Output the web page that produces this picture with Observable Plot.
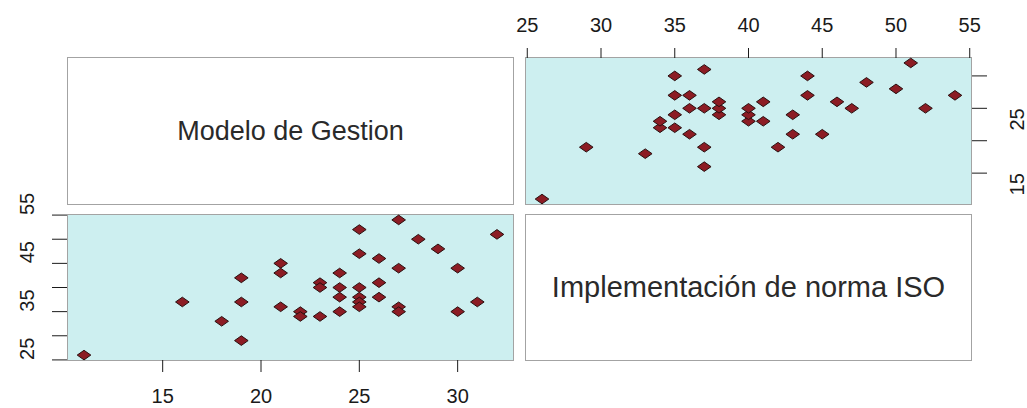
<!DOCTYPE html>
<html><head><meta charset="utf-8">
<script src="https://cdn.jsdelivr.net/npm/d3@7"></script>
<script src="https://cdn.jsdelivr.net/npm/@observablehq/plot@0.6"></script>
<style>
html,body{margin:0;padding:0;background:#fff;}
#chart{position:relative;width:1027px;height:408px;overflow:hidden;background:#fff;}
#chart svg{position:absolute;}
</style></head><body><div id="chart"></div>
<script>
// Variables (diagonal labels)
const variables = ["Modelo de Gestion", "Implementación de norma ISO"];
// Observations (paired)
const modeloGestion = [11,16,18,19,19,19,21,21,21,22,22,23,23,23,24,24,24,24,25,25,25,25,25,25,26,26,26,27,27,27,27,28,29,30,30,31,32];
const normaISO      = [26,37,33,42,37,29,45,43,36,35,34,34,41,40,43,40,38,35,52,47,40,38,37,36,46,41,38,54,44,36,35,50,48,44,35,37,51];
// Axis ticks and labels
const ticksISO = [25,30,35,40,45,50,55];
const labelsISOLeft = [25,35,45,55];
const ticksGestionRight = [15,20,25,30];
const labelsGestionRight = [15,25];
const ticksGestionBottom = [15,20,25,30];

const panelFill = "#cdeff0", borderColor = "#a3a3a3", pointFill = "#8c1c24", inkColor = "#1a1a1a";
const style = {fontFamily: "'Liberation Sans', Arial, sans-serif", fontSize: "20px", color: inkColor, background: "transparent", overflow: "visible"};

const points = modeloGestion.map((g, i) => ({gestion: g, iso: normaISO[i]}));
function padded(arr) { const [a, b] = d3.extent(arr); const p = (b - a) * 0.04; return [a - p, b + p]; }
const domGestion = padded(modeloGestion), domISO = padded(normaISO);

const wideDiamond = {draw(ctx) { const w = 6.8, h = 4.8; ctx.moveTo(-w, 0); ctx.lineTo(0, -h); ctx.lineTo(w, 0); ctx.lineTo(0, h); ctx.closePath(); }};

const chart = document.getElementById("chart");
function place(svg, left, top) { svg.style.left = left + "px"; svg.style.top = top + "px"; chart.appendChild(svg); }

// Top-left: label panel
place(Plot.plot({
  width: 448, height: 149, margin: 1, style,
  marks: [
    Plot.frame({fill: "white", stroke: borderColor}),
    Plot.text([variables[0]], {frameAnchor: "middle", text: d => d, fontSize: 27, fill: "#2a2a2a"})
  ]
}), 66, 56);

// Top-right: x = ISO, y = Gestion
place(Plot.plot({
  width: 503, height: 205, marginTop: 57, marginRight: 56, marginLeft: 1, marginBottom: 1, style,
  x: {domain: domISO}, y: {domain: domGestion},
  marks: [
    Plot.frame({fill: panelFill, stroke: borderColor}),
    Plot.axisX({anchor: "top", ticks: ticksISO, tickSize: 10, tickPadding: 16, label: null, fontSize: 20}),
    Plot.axisY({anchor: "right", ticks: ticksGestionRight, tickSize: 15, tickFormat: () => "", label: null}),
    Plot.text(labelsGestionRight, {y: d => d, text: d => String(d), frameAnchor: "right", dx: 46, rotate: -90, fontSize: 20, fill: inkColor}),
    Plot.dot(points, {x: "iso", y: "gestion", symbol: wideDiamond, fill: pointFill, stroke: "#2a1010", strokeWidth: 1})
  ]
}), 524, 0);

// Bottom-left: x = Gestion, y = ISO
place(Plot.plot({
  width: 514, height: 195, marginTop: 1, marginRight: 1, marginLeft: 67, marginBottom: 48, style,
  x: {domain: domGestion}, y: {domain: domISO},
  marks: [
    Plot.frame({fill: panelFill, stroke: borderColor}),
    Plot.axisX({anchor: "bottom", ticks: ticksGestionBottom, tickSize: 12, tickPadding: 16, label: null, fontSize: 20}),
    Plot.axisY({anchor: "left", ticks: ticksISO, tickSize: 15, tickFormat: () => "", label: null}),
    Plot.text(labelsISOLeft, {y: d => d, text: d => String(d), frameAnchor: "left", dx: -40, rotate: -90, fontSize: 20, fill: inkColor}),
    Plot.dot(points, {x: "gestion", y: "iso", symbol: wideDiamond, fill: pointFill, stroke: "#2a1010", strokeWidth: 1})
  ]
}), 0, 213);

// Bottom-right: label panel
place(Plot.plot({
  width: 448, height: 148, margin: 1, style,
  marks: [
    Plot.frame({fill: "white", stroke: borderColor}),
    Plot.text([variables[1]], {frameAnchor: "middle", text: d => d, fontSize: 29, fill: "#2a2a2a"})
  ]
}), 524, 213);
</script></body></html>
